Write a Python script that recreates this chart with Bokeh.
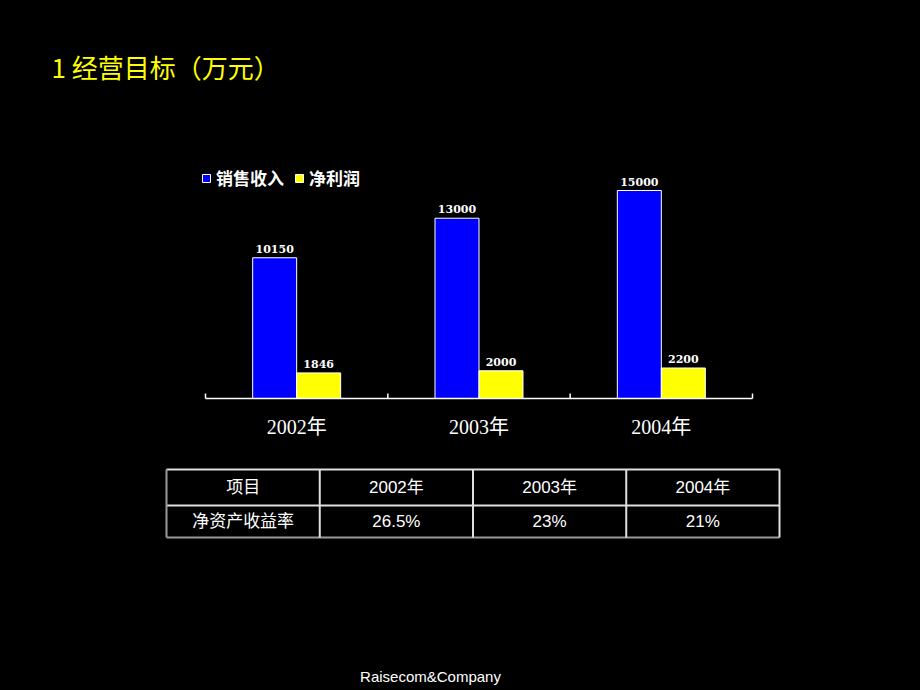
import numpy as np
from bokeh.plotting import figure
from bokeh.models import Range1d, Legend, LegendItem, ColumnDataSource
from bokeh.core.properties import value
from bokeh.embed import file_html
from bokeh.resources import INLINE

# ---------------- data ----------------
years = ["2002年", "2003年", "2004年"]
sales = [10150, 13000, 15000]          # 销售收入
profit = [1846, 2000, 2200]            # 净利润
series_names = ["销售收入", "净利润"]
table_header = ["项目", "2002年", "2003年", "2004年"]
table_row = ["净资产收益率", "26.5%", "23%", "21%"]
title_text = "1 经营目标（万元）"
footer_text = "Raisecom&Company"

# ---------------- layout constants (page pixels) ----------------
W, H = 920, 690
PX0, PY0 = 0, 0
AX_LEFT, AX_RIGHT = 205.0, 752.0      # category axis extent
CAT_PX = (AX_RIGHT - AX_LEFT) / len(years)
BASE_PX = 398.0                       # baseline of bars
UNITS_PER_PX = 15000 / 208.0
BAR_PX = 44.0

p = figure(width=W, height=H, output_backend="svg", toolbar_location=None,
           x_range=Range1d(PX0, PX0 + W), y_range=Range1d(PY0 + H, PY0),
           x_axis_type=None, y_axis_type=None, min_border=0,
           background_fill_color="black", border_fill_color="black",
           outline_line_color=None)
p.grid.visible = False

try:
    from bokeh.models import GlobalInlineStyleSheet
    p.stylesheets = [GlobalInlineStyleSheet(css="html, body { background-color: #000000; overflow: hidden; }")]
except Exception:
    pass

# extra ranges for the bar chart
p.extra_x_ranges = {"cat": Range1d((PX0 - AX_LEFT) / CAT_PX, (PX0 + W - AX_LEFT) / CAT_PX)}
p.extra_y_ranges = {"val": Range1d(-(PY0 + H - BASE_PX) * UNITS_PER_PX, (BASE_PX - PY0) * UNITS_PER_PX)}

idx = np.arange(len(years)) + 0.5
bw = BAR_PX / CAT_PX
src = ColumnDataSource(dict(
    xc=idx, xs=idx - bw / 2, xp=idx + bw / 2,
    sales=sales, profit=profit,
    sales_lbl=[str(v) for v in sales], profit_lbl=[str(v) for v in profit],
    years=years,
))

r_sales = p.vbar(x="xs", top="sales", bottom=0, width=bw, source=src,
                 fill_color="#0000FF", line_color="white", line_width=1,
                 x_range_name="cat", y_range_name="val")
r_profit = p.vbar(x="xp", top="profit", bottom=0, width=bw, source=src,
                  fill_color="#FFFF00", line_color="white", line_width=1,
                  x_range_name="cat", y_range_name="val")

lbl_font = value("DejaVu Serif")
p.text(x="xs", y="sales", text="sales_lbl", source=src, x_range_name="cat", y_range_name="val",
       text_align="center", text_baseline="bottom", y_offset=-5,
       text_font=lbl_font, text_font_size="11px", text_font_style="bold", text_color="white")
p.text(x="xp", y="profit", text="profit_lbl", source=src, x_range_name="cat", y_range_name="val",
       text_align="center", text_baseline="bottom", y_offset=-5,
       text_font=lbl_font, text_font_size="11px", text_font_style="bold", text_color="white")

# category axis: baseline + upward ticks + labels
ticks = np.arange(len(years) + 1)
p.segment(x0=[0], y0=[BASE_PX], x1=[len(years)], y1=[BASE_PX], x_range_name="cat",
          line_color="white", line_width=1.5)
p.segment(x0=ticks, y0=[BASE_PX] * len(ticks), x1=ticks, y1=[BASE_PX - 5] * len(ticks),
          x_range_name="cat", line_color="white", line_width=1.5)
p.text(x="xc", y=426, text="years", source=src, x_range_name="cat",
       text_align="center", text_baseline="middle",
       text_font=value("Liberation Serif, Noto Sans CJK SC"), text_font_size="20px",
       text_color="white")

# legend
legend = Legend(items=[LegendItem(label=value(series_names[0]), renderers=[r_sales]),
                       LegendItem(label=value(series_names[1]), renderers=[r_profit])],
                location=(201, 500), orientation="horizontal",
                glyph_width=10, glyph_height=10, label_height=16,
                label_text_font="Noto Sans CJK SC", label_text_font_size="17px",
                label_text_font_style="bold", label_text_color="white",
                background_fill_alpha=0, border_line_alpha=0,
                padding=0, margin=0, spacing=10, label_standoff=5)
p.add_layout(legend)

# title
p.text(x=[51], y=[66], text=[title_text], text_align="left", text_baseline="middle",
       text_font=value("Noto Sans CJK SC"), text_font_size="26px", text_color="#FFFF00")

# table
TX0, TCOL = 166.0, (779.0 - 166.0) / 4
TY = [469.0, 505.0, 537.0]
xe = [TX0 + i * TCOL for i in range(5)]
light, dark = "#E0E0E0", "#9A9A9A"
p.segment(x0=[xe[0], xe[0]], y0=[TY[0], TY[1]], x1=[xe[4], xe[4]], y1=[TY[0], TY[1]],
          line_color=light, line_width=2)
p.segment(x0=[xe[0]], y0=[TY[2]], x1=[xe[4]], y1=[TY[2]], line_color=dark, line_width=2)
p.segment(x0=xe[1:], y0=[TY[0]] * 4, x1=xe[1:], y1=[TY[2]] * 4, line_color=light, line_width=2)
p.segment(x0=[xe[0]], y0=[TY[0]], x1=[xe[0]], y1=[TY[2]], line_color=dark, line_width=2)
cx = [(xe[i] + xe[i + 1]) / 2 for i in range(4)]
tfont = value("Liberation Sans, Noto Sans CJK SC")
p.text(x=cx, y=[(TY[0] + TY[1]) / 2] * 4, text=table_header, text_align="center",
       text_baseline="middle", text_font=tfont, text_font_size="17px", text_color="white")
p.text(x=cx, y=[(TY[1] + TY[2]) / 2] * 4, text=table_row, text_align="center",
       text_baseline="middle", text_font=tfont, text_font_size="17px", text_color="white")

# footer
p.text(x=[430], y=[676], text=[footer_text], text_align="center", text_baseline="middle",
       text_font=value("Liberation Sans"), text_font_size="15px", text_color="white")

open("out.html", "w").write(file_html(p, INLINE))
